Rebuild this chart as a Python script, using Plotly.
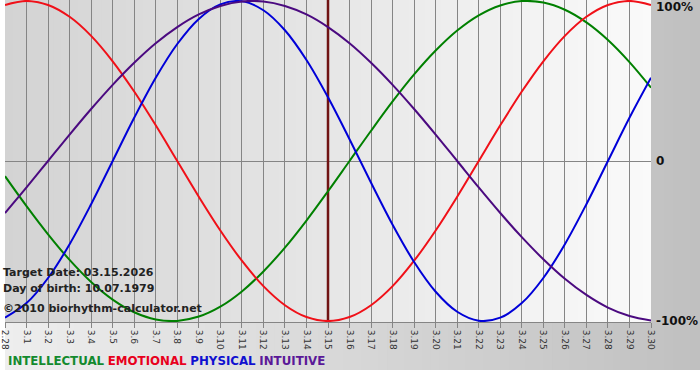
import plotly.graph_objects as go

# ---- data ----
dates = ["2.28"] + [f"3.{d}" for d in range(1, 31)]
target_date = "3.15"

physical = [-0.979, -0.888, -0.731, -0.520, -0.270, 0.0, 0.270, 0.520, 0.731, 0.888,
            0.979, 0.998, 0.942, 0.817, 0.631, 0.398, 0.136, -0.136, -0.398, -0.631,
            -0.817, -0.942, -0.998, -0.979, -0.888, -0.731, -0.520, -0.270, 0.0, 0.270, 0.520]
emotional = [0.975, 1.0, 0.975, 0.901, 0.782, 0.623, 0.434, 0.223, 0.0, -0.223,
             -0.434, -0.623, -0.782, -0.901, -0.975, -1.0, -0.975, -0.901, -0.782, -0.623,
             -0.434, -0.223, 0.0, 0.223, 0.434, 0.623, 0.782, 0.901, 0.975, 1.0, 0.975]
intellectual = [-0.095, -0.282, -0.458, -0.618, -0.756, -0.866, -0.945, -0.990, -0.999, -0.972,
                -0.910, -0.815, -0.690, -0.541, -0.372, -0.189, 0.0, 0.189, 0.372, 0.541,
                0.690, 0.815, 0.910, 0.972, 0.999, 0.990, 0.945, 0.866, 0.756, 0.618, 0.458]
intuitive = [-0.325, -0.165, 0.0, 0.165, 0.325, 0.476, 0.614, 0.736, 0.837, 0.916,
             0.969, 0.997, 0.997, 0.969, 0.916, 0.837, 0.736, 0.614, 0.476, 0.325,
             0.165, 0.0, -0.165, -0.325, -0.476, -0.614, -0.736, -0.837, -0.916, -0.969, -0.997]

series = [
    ("INTELLECTUAL", intellectual, "#008000", "#138a2e"),
    ("EMOTIONAL", emotional, "#f01018", "#e8001c"),
    ("PHYSICAL", physical, "#0000d8", "#1010d0"),
    ("INTUITIVE", intuitive, "#4b0a80", "#5a1898"),
]
y_ticks = [1, 0, -1]
y_tick_text = ["100%", "0", "-100%"]

info_lines = ["Target Date: 03.15.2026", "Day of birth: 10.07.1979", "©2010 biorhythm-calculator.net"]

# ---- layout constants ----
W, H = 700, 380
ML, MR, MT, MB = 0, 49, 0, 58
PW, PH = W - ML - MR, H - MT - MB
FONT = "Verdana, DejaVu Sans, sans-serif"


def lerp_gray(a, b, t):
    v = round(a + (b - a) * t)
    return f"rgb({v},{v},{v})"


fig = go.Figure()

# target date marker
fig.add_trace(go.Scatter(x=[target_date, target_date], y=[-1.01, 1.01], mode="lines",
                         line=dict(color="#701414", width=2.5), hoverinfo="skip", showlegend=False))

for name, vals, col, _ in series:
    fig.add_trace(go.Scatter(x=dates, y=vals, mode="lines", name=name,
                             line=dict(color=col, width=2, shape="spline", smoothing=1.0),
                             showlegend=False))

shapes = []
# outer band gradient (light left -> darker right)
N = 80
x_right = W / PW
y_bottom = -(370 - PH) / PH
for k in range(N):
    t0 = k / N
    t1 = (k + 1) / N
    shapes.append(dict(type="rect", xref="paper", yref="paper", layer="below",
                       x0=t0 * x_right, x1=t1 * x_right + 0.002, y0=y_bottom, y1=1.01,
                       line=dict(width=0), fillcolor=lerp_gray(238, 192, (t0 + t1) / 2)))
# plot area gradient (darker left -> light right)
for k in range(N):
    t0 = k / N
    t1 = (k + 1) / N
    shapes.append(dict(type="rect", xref="paper", yref="paper", layer="below",
                       x0=t0, x1=min(t1 + 0.002, 1), y0=0, y1=1.01,
                       line=dict(width=0), fillcolor=lerp_gray(211, 250, (t0 + t1) / 2)))

annotations = []
for v, txt in zip(y_ticks, y_tick_text):
    annotations.append(dict(xref="paper", x=1, xanchor="left", xshift=3,
                            yref="y", y=v, yanchor="middle",
                            yshift=-6 if v == 1 else 0,
                            text=f"<b>{txt}</b>", showarrow=False,
                            font=dict(family=FONT, size=12, color="#111")))

for i, line in enumerate(info_lines):
    annotations.append(dict(xref="paper", x=0, xanchor="left", xshift=-4,
                            yref="paper", y=0, yanchor="middle", yshift=[50, 34, 14][i],
                            text=f"<b>{line}</b>", showarrow=False,
                            font=dict(family=FONT, size=11, color="#222")))

legend_text = " ".join(f"<span style='color:{tc}'><b>{name}</b></span>" for name, _, _, tc in series)
annotations.append(dict(xref="paper", x=0, xanchor="left", xshift=1,
                        yref="paper", y=0, yanchor="middle", yshift=-39,
                        text=legend_text, showarrow=False,
                        font=dict(family=FONT, size=11.8)))

fig.update_layout(
    width=W, height=H,
    margin=dict(l=ML, r=MR, t=MT, b=MB, pad=0),
    paper_bgcolor="white", plot_bgcolor="rgba(0,0,0,0)",
    shapes=shapes, annotations=annotations,
    showlegend=False,
    xaxis=dict(type="category", categoryorder="array", categoryarray=dates,
               range=[0, len(dates) - 1], tickangle=90,
               showgrid=True, gridcolor="#858585", gridwidth=1,
               ticks="outside", ticklen=5, tickcolor="#858585",
               showline=True, linecolor="#858585", linewidth=1,
               tickfont=dict(family=FONT, size=9, color="#333"),
               fixedrange=True, zeroline=False),
    yaxis=dict(range=[-1.006, 1.006], showgrid=False, showticklabels=False,
               zeroline=True, zerolinecolor="#858585", zerolinewidth=1,
               fixedrange=True),
)

fig.write_html("out.html")
